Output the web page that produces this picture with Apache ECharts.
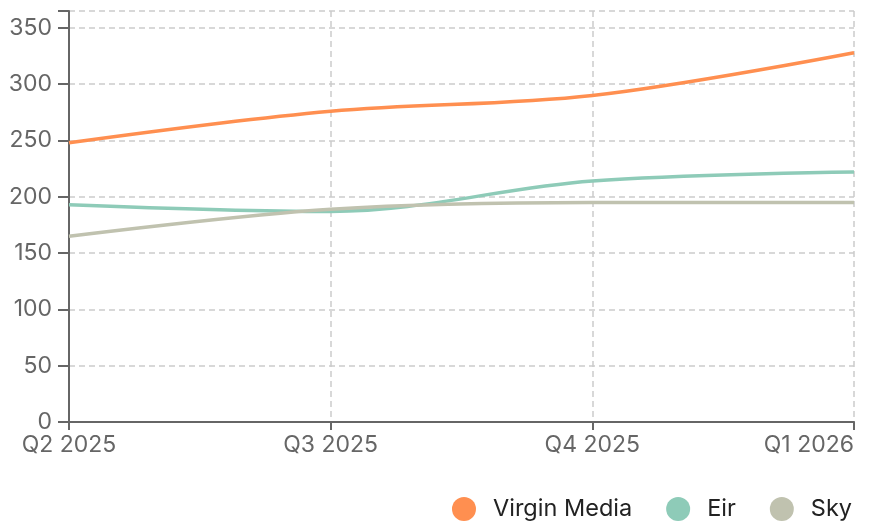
<!DOCTYPE html>
<html>
<head>
<meta charset="utf-8">
<script src="https://cdn.jsdelivr.net/npm/echarts@6/dist/echarts.min.js"></script>
<style>
  html, body { margin: 0; padding: 0; background: #fff; }
  #chart { width: 871px; height: 522px; }
</style>
</head>
<body>
<div id="chart"></div>
<script>
const quarters = ['Q2 2025', 'Q3 2025', 'Q4 2025', 'Q1 2026'];
const virginMedia = [248, 276, 290, 328];
const eir = [193, 187, 214, 222];
const sky = [165, 189, 195, 195];

const seriesNames = ['Virgin Media', 'Eir', 'Sky'];
const seriesColors = ['#ff8f50', '#8ecbb8', '#c0c2af'];

const makeLine = (name, data, color) => ({
  name: name,
  type: 'line',
  data: data,
  smooth: 0.35,
  symbol: 'none',
  lineStyle: { color: color, width: 3.5 },
  itemStyle: { color: color }
});

const getOption = () => {
  return {
    animation: false,
    textStyle: { fontFamily: 'Inter' },
    grid: { left: 69, right: 17, top: 11, bottom: 100 },
    legend: {
      right: 14,
      top: 492,
      icon: 'circle',
      itemWidth: 24,
      itemHeight: 24,
      itemGap: 34,
      textStyle: { fontSize: 23.5, color: '#222', fontFamily: 'Inter', padding: [0, 0, 0, 12] },
      data: seriesNames
    },
    xAxis: {
      type: 'category',
      data: quarters,
      boundaryGap: false,
      axisLine: { lineStyle: { color: '#666', width: 2 } },
      axisTick: { show: true, length: 8, lineStyle: { color: '#666', width: 2 } },
      axisLabel: { color: '#666', fontSize: 23, margin: 12, alignMaxLabel: 'right' },
      splitLine: { show: true, lineStyle: { color: '#ccc', type: [6, 4], width: 1.5 } }
    },
    yAxis: {
      type: 'value',
      min: 0,
      max: 365,
      interval: 50,
      axisLine: { show: true, lineStyle: { color: '#666', width: 2 } },
      axisTick: { show: true, length: 11, lineStyle: { color: '#666', width: 2 } },
      axisLabel: {
        color: '#666', fontSize: 23, margin: 17,
        formatter: v => (v % 50 === 0 ? String(v) : '')
      },
      splitLine: { show: true, lineStyle: { color: '#ccc', type: [6, 4], width: 1.5 } }
    },
    series: [
      makeLine(seriesNames[0], virginMedia, seriesColors[0]),
      makeLine(seriesNames[1], eir, seriesColors[1]),
      makeLine(seriesNames[2], sky, seriesColors[2])
    ]
  };
};

const chart = echarts.init(document.getElementById('chart'));
chart.setOption(getOption());
</script>
</body>
</html>
